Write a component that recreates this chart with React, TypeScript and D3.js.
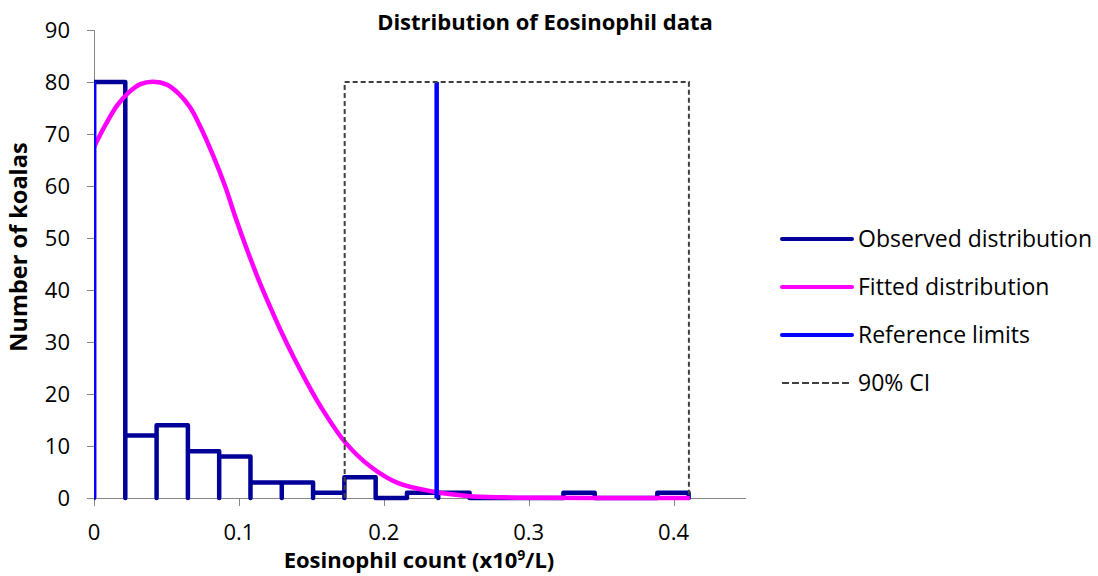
import React from "react";
import * as d3 from "d3";

// ---- data ----
const binStart = 0;
const binWidth = 0.0216;
const observedCounts = [80, 12, 14, 9, 8, 3, 3, 1, 4, 0, 1, 1, 0, 0, 0, 1, 0, 0, 1];

const fitX = [0, 0.008, 0.016, 0.024, 0.032, 0.041, 0.0503, 0.0583, 0.0664, 0.0734, 0.0826, 0.0907, 0.0976, 0.1057, 0.1137, 0.1218, 0.1287, 0.1379, 0.1472, 0.1564, 0.1737, 0.191, 0.2095, 0.2346, 0.2579, 0.281, 0.309, 0.35, 0.41];
const fitY = [67.5, 71.8, 75.5, 78.0, 79.6, 80.06, 79.5, 77.8, 75.1, 71.4, 65.6, 59.8, 54.0, 47.7, 41.9, 36.6, 32.3, 27.0, 22.1, 17.6, 10.6, 6.0, 2.9, 1.2, 0.4, 0.13, 0.04, 0.01, 0];

const referenceLimits = [0, 0.2365];
const referenceHeight = 80;
const ciBounds = [0.173, 0.4106];
const ciHeight = 80;

const yTicks = [0, 10, 20, 30, 40, 50, 60, 70, 80, 90];
const xTicks = [0, 0.1, 0.2, 0.3, 0.4];
const xTickLabels = ["0", "0.1", "0.2", "0.3", "0.4"];

const legendItems = ["Observed distribution", "Fitted distribution", "Reference limits", "90% CI"];

const W = 1098;
const H = 576;
const plot = { left: 94, right: 746, top: 30, bottom: 498 };

const FONT = "'Open Sans', 'Noto Sans', sans-serif";
const NAVY = "#000099";
const MAGENTA = "#FF00FF";
const BLUE = "#0000FF";
const CI_COLOR = "#404040";
const AXIS = "#868686";

export default function App() {
  const x = d3.scaleLinear().domain([0, 0.45]).range([plot.left, plot.right]);
  const y = d3.scaleLinear().domain([0, 90]).range([plot.bottom, plot.top]);

  // histogram outline path
  const histPath = d3.path();
  observedCounts.forEach((c, i) => {
    const x0 = x(binStart + i * binWidth);
    const x1 = x(binStart + (i + 1) * binWidth);
    if (i === 0) histPath.moveTo(x0, y(0));
    histPath.lineTo(x0, y(c));
    histPath.lineTo(x1, y(c));
    histPath.lineTo(x1, y(0));
  });

  const fitLine = d3
    .line<number>()
    .x((_, i) => x(fitX[i]))
    .y((d) => y(d))
    .curve(d3.curveCatmullRom.alpha(0.5));

  const legendX0 = 782;
  const legendX1 = 852;
  const legendYs = [239, 287, 335, 383];
  const legendStyles = [
    { stroke: NAVY, width: 4, dash: undefined as string | undefined },
    { stroke: MAGENTA, width: 4, dash: undefined },
    { stroke: BLUE, width: 4, dash: undefined },
    { stroke: CI_COLOR, width: 2, dash: "7,3" },
  ];

  return (
    <svg
      width={W}
      height={H}
      viewBox={`0 0 ${W} ${H}`}
      style={{ position: "absolute", left: 0, top: 0, background: "#fff" }}
      fontFamily={FONT}
    >
      <rect x={0} y={0} width={W} height={H} fill="#fff" />
      <defs>
        <clipPath id="plotClip">
          <rect x={plot.left} y={plot.top - 5} width={plot.right - plot.left} height={plot.bottom - plot.top + 10} />
        </clipPath>
      </defs>

      {/* title */}
      <text x={545} y={30} textAnchor="middle" fontSize={22} fontWeight="bold" fill="#000">
        Distribution of Eosinophil data
      </text>

      {/* axes */}
      <line x1={plot.left + 0.5} x2={plot.left + 0.5} y1={plot.top} y2={plot.bottom} stroke={AXIS} strokeWidth={1} />
      <line x1={plot.left} x2={plot.right} y1={plot.bottom + 0.5} y2={plot.bottom + 0.5} stroke={AXIS} strokeWidth={1} />
      {yTicks.map((t) => (
        <g key={"yt" + t}>
          <line x1={plot.left - 7} x2={plot.left} y1={Math.round(y(t)) + 0.5} y2={Math.round(y(t)) + 0.5} stroke={AXIS} />
          <text x={70} y={y(t)} dy="0.35em" textAnchor="end" fontSize={22} fill="#000">
            {t}
          </text>
        </g>
      ))}
      {xTicks.map((t, i) => (
        <g key={"xt" + t}>
          <line x1={Math.round(x(t)) + 0.5} x2={Math.round(x(t)) + 0.5} y1={plot.bottom} y2={plot.bottom + 8} stroke={AXIS} />
          <text x={x(t)} y={540} textAnchor="middle" fontSize={22} fill="#000">
            {xTickLabels[i]}
          </text>
        </g>
      ))}

      {/* axis titles */}
      <text
        transform={`translate(27, ${247}) rotate(-90)`}
        textAnchor="middle"
        fontSize={23.5}
        fontWeight="bold"
        fill="#000"
      >
        Number of koalas
      </text>
      <text x={419} y={568} textAnchor="middle" fontSize={22} fontWeight="bold" fill="#000">
        Eosinophil count (x10
        <tspan dy={-8} fontSize={14}>9</tspan>
        <tspan dy={8}>/L)</tspan>
      </text>

      <g clipPath="url(#plotClip)">
        {/* observed distribution */}
        <path d={histPath.toString()} fill="none" stroke={NAVY} strokeWidth={4.5} strokeLinejoin="round" strokeLinecap="round" />
        {/* fitted distribution */}
        <path d={fitLine(fitY) || ""} fill="none" stroke={MAGENTA} strokeWidth={4.5} strokeLinejoin="round" strokeLinecap="round" />
        {/* reference limits */}
        {referenceLimits.map((r) => (
          <line key={"ref" + r} x1={x(r)} x2={x(r)} y1={y(0)} y2={y(referenceHeight)} stroke={BLUE} strokeWidth={4.5} />
        ))}
        {/* 90% CI box */}
        <path
          d={`M${x(ciBounds[0])},${y(0)} V${y(ciHeight)} H${x(ciBounds[1])} V${y(0)}`}
          fill="none"
          stroke={CI_COLOR}
          strokeWidth={2}
          strokeDasharray="5,3"
        />
      </g>

      {/* legend */}
      {legendItems.map((label, i) => (
        <g key={label}>
          <line
            x1={legendX0}
            x2={legendX1}
            y1={legendYs[i]}
            y2={legendYs[i]}
            stroke={legendStyles[i].stroke}
            strokeWidth={legendStyles[i].width}
            strokeDasharray={legendStyles[i].dash}
            strokeLinecap={legendStyles[i].dash ? "butt" : "round"}
          />
          <text x={858} y={legendYs[i]} dy="0.35em" fontSize={23} fill="#000">
            {label}
          </text>
        </g>
      ))}
    </svg>
  );
}
